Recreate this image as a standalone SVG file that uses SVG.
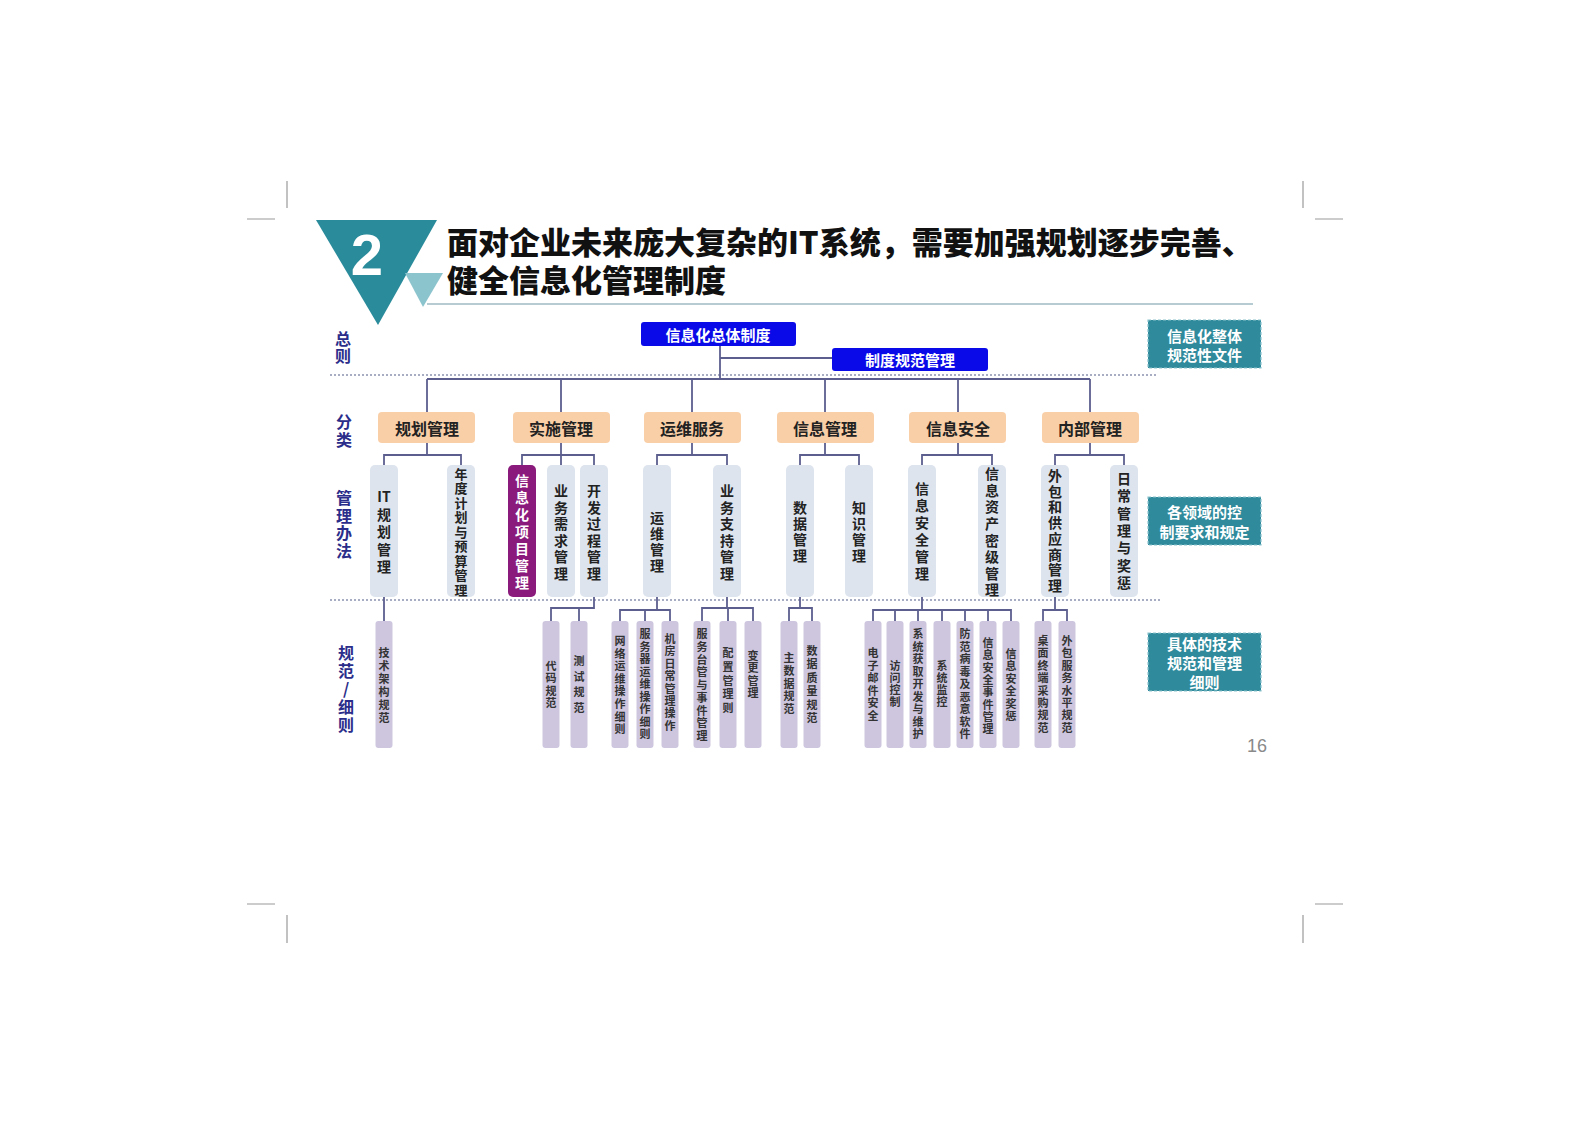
<svg xmlns="http://www.w3.org/2000/svg" width="1587" height="1122" viewBox="0 0 1587 1122">
<style>
text{font-family:"Noto Sans CJK SC","Liberation Sans",sans-serif;font-weight:700}
.crop{stroke:#9a9a9a;stroke-width:1.2;fill:none}
.title{font-size:31px;fill:#111;font-weight:900}
.lbl{font-size:16px;fill:#2b2d8a;text-anchor:middle;dominant-baseline:central}
.blue{fill:#0a0ae8}
.bt{font-size:15px;fill:#fff;text-anchor:middle;dominant-baseline:central}
.cat{fill:#f9cfa7}
.ct{font-size:16px;fill:#222;text-anchor:middle;dominant-baseline:central}
.m{fill:#dde4ee}
.mp{fill:#8a1a7c}
.mt{font-size:14px;fill:#222;text-anchor:middle;dominant-baseline:central}
.mw{font-size:14px;fill:#fff;text-anchor:middle;dominant-baseline:central}
.d{fill:#cdc6de}
.dt{font-size:11px;fill:#333;text-anchor:middle;dominant-baseline:central}
.teal{fill:#2f8a9c;stroke:#8cc3cd;stroke-width:1.2;stroke-dasharray:3 2}
.tt{font-size:15px;fill:#fff;text-anchor:middle;dominant-baseline:central}
.dot{stroke:#8d93b0;stroke-width:1.5;stroke-dasharray:2 2;fill:none}
.con{stroke:#5c5f8e;stroke-width:1.8;fill:none}
</style>
<rect width="1587" height="1122" fill="#fff"/>
<g id="cropmarks" class="crop">
<path d="M287 181V208M247 219H275M1303 181V208M1315 219H1343M287 915V943M247 904H275M1303 915V943M1315 904H1343"/>
</g>
<g id="header">
<polygon points="316,220 437,220 378,325" fill="#2a8b9b"/>
<polygon points="405,273 443,273 423,307" fill="#8cc4cd"/>
<text x="367" y="275" style="font-family:'Liberation Sans',sans-serif;font-size:58px;fill:#fff;text-anchor:middle">2</text>
<text class="title" x="447" y="254">面对企业未来庞大复杂的IT系统，需要加强规划逐步完善、</text>
<text class="title" x="447" y="292">健全信息化管理制度</text>
<path d="M427 304H1253" stroke="#6f9aa5" stroke-width="1.2"/>
</g>
<g id="row-labels">
<text class="lbl" x="343 343" y="338 355">总则</text>
<text class="lbl" x="344 344" y="421 439">分类</text>
<text class="lbl" x="344 344 344 344" y="497 515 532 550">管理办法</text>
<text class="lbl" x="346 346 346 346 346" y="652 670 688 706 724">规范/细则</text>
</g>
<g id="dividers" class="dot">
<path d="M330 375H1157M330 600H1162"/>
</g>
<g id="connectors" class="con">
<path d="M720 346V379M720 358H832M427 379H1090M427 379V412M561 379V412M692 379V412M825 379V412M958 379V412M1090 379V412"/>
<path d="M427 443V455M384 465V455H461V465M561 443V465M522 465V455H594V465M692 443V455M657 465V455H727V465M825 443V455M800 465V455H859V465M958 443V455M922 465V455H992V465M1090 443V455M1055 465V455H1124V465"/>
<path d="M384 597V621M594 597V608H551V621M579 608V621M657 597V610M620 621V610H670V621M645 610V621M727 597V608M702 621V608H753V621M728 608V621M800 597V608M789 621V608H812V621M922 597V610M873 621V610H1011V621M895 610V621M918 610V621M942 610V621M965 610V621M988 610V621M1055 597V610M1043 621V610H1067V621"/>
</g>
<g id="n-general"><rect class="blue" x="641" y="322" width="155" height="24" rx="3"/><text class="bt" x="718" y="334">信息化总体制度</text></g>
<g id="n-policy"><rect class="blue" x="832" y="348" width="156" height="23" rx="3"/><text class="bt" x="910" y="359.5">制度规范管理</text></g>
<g id="c1"><rect class="cat" x="378" y="412" width="97" height="31" rx="4"/><text class="ct" x="427" y="427.5">规划管理</text></g>
<g id="c2"><rect class="cat" x="513" y="412" width="97" height="31" rx="4"/><text class="ct" x="561" y="427.5">实施管理</text></g>
<g id="c3"><rect class="cat" x="644" y="412" width="97" height="31" rx="4"/><text class="ct" x="692" y="427.5">运维服务</text></g>
<g id="c4"><rect class="cat" x="777" y="412" width="97" height="31" rx="4"/><text class="ct" x="825" y="427.5">信息管理</text></g>
<g id="c5"><rect class="cat" x="909" y="412" width="97" height="31" rx="4"/><text class="ct" x="958" y="427.5">信息安全</text></g>
<g id="c6"><rect class="cat" x="1042" y="412" width="97" height="31" rx="4"/><text class="ct" x="1090" y="427.5">内部管理</text></g>
<g id="m1"><rect class="m" x="370" y="465" width="28" height="132" rx="5"/><text class="mt"><tspan x="384" y="496">IT</tspan><tspan x="384 384 384 384" y="513.5 531 548.5 566">规划管理</tspan></text></g>
<g id="m2"><rect class="m" x="447" y="465" width="28" height="132" rx="5"/><text class="mt" style="font-size:13px" x="461 461 461 461 461 461 461 461 461" y="473 487.5 502 516.5 531 545.5 560 574.5 589">年度计划与预算管理</text></g>
<g id="m3"><rect class="mp" x="508" y="465" width="28" height="132" rx="5"/><text class="mw" x="522 522 522 522 522 522 522" y="480 497 514 531 548 565 582">信息化项目管理</text></g>
<g id="m4"><rect class="m" x="547" y="465" width="28" height="132" rx="5"/><text class="mt" x="561 561 561 561 561 561" y="490 506.5 523 539.5 556 572.5">业务需求管理</text></g>
<g id="m5"><rect class="m" x="580" y="465" width="28" height="132" rx="5"/><text class="mt" x="594 594 594 594 594 594" y="490 506.5 523 539.5 556 572.5">开发过程管理</text></g>
<g id="m6"><rect class="m" x="643" y="465" width="28" height="132" rx="5"/><text class="mt" x="657 657 657 657" y="517 533 549 565">运维管理</text></g>
<g id="m7"><rect class="m" x="713" y="465" width="28" height="132" rx="5"/><text class="mt" x="727 727 727 727 727 727" y="490 506.5 523 539.5 556 572.5">业务支持管理</text></g>
<g id="m8"><rect class="m" x="786" y="465" width="28" height="132" rx="5"/><text class="mt" x="800 800 800 800" y="507 523 539 555">数据管理</text></g>
<g id="m9"><rect class="m" x="845" y="465" width="28" height="132" rx="5"/><text class="mt" x="859 859 859 859" y="507 523 539 555">知识管理</text></g>
<g id="m10"><rect class="m" x="908" y="465" width="28" height="132" rx="5"/><text class="mt" x="922 922 922 922 922 922" y="488 505 522 539 556 573">信息安全管理</text></g>
<g id="m11"><rect class="m" x="978" y="465" width="28" height="132" rx="5"/><text class="mt" x="992 992 992 992 992 992 992 992" y="473 490 506 523 540 556 573 589">信息资产密级管理</text></g>
<g id="m12"><rect class="m" x="1041" y="465" width="28" height="132" rx="5"/><text class="mt" x="1055 1055 1055 1055 1055 1055 1055 1055" y="475 491 506 522 538 554 569 585">外包和供应商管理</text></g>
<g id="m13"><rect class="m" x="1110" y="465" width="28" height="132" rx="5"/><text class="mt" x="1124 1124 1124 1124 1124 1124 1124" y="478 495 513 530 547 565 582">日常管理与奖惩</text></g>
<g id="d1"><rect class="d" x="375.5" y="621" width="17" height="127" rx="3"/><text class="dt" x="384 384 384 384 384 384" y="652 665 678 691 704 717">技术架构规范</text></g>
<g id="d2"><rect class="d" x="542.5" y="621" width="17" height="127" rx="3"/><text class="dt" x="551 551 551 551" y="665 677 690 702">代码规范</text></g>
<g id="d3"><rect class="d" x="570.5" y="621" width="17" height="127" rx="3"/><text class="dt" x="579 579 579 579" y="660 676 691 707">测试规范</text></g>
<g id="d4"><rect class="d" x="611.5" y="621" width="17" height="127" rx="3"/><text class="dt" x="620 620 620 620 620 620 620 620" y="640 652.6 665.2 677.8 690.4 703 715.6 728.2">网络运维操作细则</text></g>
<g id="d5"><rect class="d" x="636.5" y="621" width="17" height="127" rx="3"/><text class="dt" x="645 645 645 645 645 645 645 645 645" y="633 645.5 658 670.5 683 695.5 708 720.5 733">服务器运维操作细则</text></g>
<g id="d6"><rect class="d" x="661.5" y="621" width="17" height="127" rx="3"/><text class="dt" x="670 670 670 670 670 670 670 670" y="638 650.4 662.8 675.2 687.6 700 712.4 724.8">机房日常管理操作</text></g>
<g id="d7"><rect class="d" x="693.5" y="621" width="17" height="127" rx="3"/><text class="dt" x="702 702 702 702 702 702 702 702 702" y="633 645.75 658.5 671.25 684 696.75 709.5 722.25 735">服务台管与事件管理</text></g>
<g id="d8"><rect class="d" x="719.5" y="621" width="17" height="127" rx="3"/><text class="dt" x="728 728 728 728 728" y="652 665.75 679.5 693.25 707">配置管理则</text></g>
<g id="d9"><rect class="d" x="744.5" y="621" width="17" height="127" rx="3"/><text class="dt" x="753 753 753 753" y="655 667.3 679.6 692">变更管理</text></g>
<g id="d10"><rect class="d" x="780.5" y="621" width="17" height="127" rx="3"/><text class="dt" x="789 789 789 789 789" y="657 669.75 682.5 695.25 708">主数据规范</text></g>
<g id="d11"><rect class="d" x="803.5" y="621" width="17" height="127" rx="3"/><text class="dt" x="812 812 812 812 812 812" y="650 663.4 676.8 690.2 703.6 717">数据质量规范</text></g>
<g id="d12"><rect class="d" x="864.5" y="621" width="17" height="127" rx="3"/><text class="dt" x="873 873 873 873 873 873" y="652 664.5 677 689.5 702 714.5">电子邮件安全</text></g>
<g id="d13"><rect class="d" x="886.5" y="621" width="17" height="127" rx="3"/><text class="dt" x="895 895 895 895" y="665 677 689 701">访问控制</text></g>
<g id="d14"><rect class="d" x="909.5" y="621" width="17" height="127" rx="3"/><text class="dt" x="918 918 918 918 918 918 918 918 918" y="633 645.5 658 670.5 683 695.5 708 720.5 733">系统获取开发与维护</text></g>
<g id="d15"><rect class="d" x="933.5" y="621" width="17" height="127" rx="3"/><text class="dt" x="942 942 942 942" y="665 677 689 701">系统监控</text></g>
<g id="d16"><rect class="d" x="956.5" y="621" width="17" height="127" rx="3"/><text class="dt" x="965 965 965 965 965 965 965 965 965" y="633 645.5 658 670.5 683 695.5 708 720.5 733">防范病毒及恶意软件</text></g>
<g id="d17"><rect class="d" x="979.5" y="621" width="17" height="127" rx="3"/><text class="dt" x="988 988 988 988 988 988 988 988" y="642 654.3 666.6 678.9 691.2 703.5 715.8 728.1">信息安全事件管理</text></g>
<g id="d18"><rect class="d" x="1002.5" y="621" width="17" height="127" rx="3"/><text class="dt" x="1011 1011 1011 1011 1011 1011" y="653 665.4 677.8 690.2 702.6 715">信息安全奖惩</text></g>
<g id="d19"><rect class="d" x="1034.5" y="621" width="17" height="127" rx="3"/><text class="dt" x="1043 1043 1043 1043 1043 1043 1043 1043" y="640 652.4 664.8 677.2 689.6 702 714.4 726.8">桌面终端采购规范</text></g>
<g id="d20"><rect class="d" x="1058.5" y="621" width="17" height="127" rx="3"/><text class="dt" x="1067 1067 1067 1067 1067 1067 1067 1067" y="640 652.4 664.8 677.2 689.6 702 714.4 726.8">外包服务水平规范</text></g>
<g id="side1"><rect class="teal" x="1148" y="320" width="113" height="48"/><text class="tt" x="1204.5" y="335">信息化整体</text><text class="tt" x="1204.5" y="354">规范性文件</text></g>
<g id="side2"><rect class="teal" x="1148" y="497" width="113" height="48"/><text class="tt" x="1204.5" y="511">各领域的控</text><text class="tt" x="1204.5" y="531">制要求和规定</text></g>
<g id="side3"><rect class="teal" x="1148" y="633" width="113" height="58"/><text class="tt" x="1204.5" y="643">具体的技术</text><text class="tt" x="1204.5" y="662">规范和管理</text><text class="tt" x="1204.5" y="681">细则</text></g>
<text id="page" x="1257" y="752" style="font-family:'Liberation Sans',sans-serif;font-weight:400;font-size:18px;fill:#8a8a8a;text-anchor:middle">16</text>
</svg>
